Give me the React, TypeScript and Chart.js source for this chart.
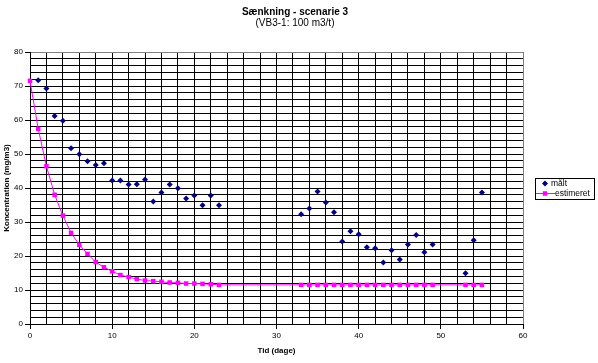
import React, { useEffect, useRef } from "react";
import { Chart, registerables } from "chart.js";

Chart.register(...registerables);

const titleText = "Sænkning - scenarie 3";
const subtitleText = "(VB3-1: 100 m3/t)";
const xTitle = "Tid (dage)";
const yTitle = "Koncentration (mg/m3)";
const measuredLabel = "målt";
const estimatedLabel = "estimeret";

const measuredDays = [1, 2, 3, 4, 5, 6, 7, 8, 9, 10, 11, 12, 13, 14, 15, 16, 17, 18, 19, 20, 21, 22, 23,
  33, 34, 35, 36, 37, 38, 39, 40, 41, 42, 43, 44, 45, 46, 47, 48, 49, 53, 54, 55];
const measuredValues = [71.7, 69.3, 61.2, 59.8, 51.7, 49.9, 47.9, 46.8, 47.3, 42.2, 42.2, 41.0, 41.1, 42.5,
  36.0, 38.7, 41.0, 39.9, 36.9, 37.8, 34.9, 37.8, 34.9,
  32.3, 34.0, 39.0, 35.7, 32.9, 24.3, 27.3, 26.4, 22.6, 22.3, 18.1, 21.7, 19.0, 23.4, 26.2, 21.1, 23.4,
  14.9, 24.6, 38.7];

const estimatedDays = [0, 1, 2, 3, 4, 5, 6, 7, 8, 9, 10, 11, 12, 13, 14, 15, 16, 17, 18, 19, 20, 21, 22, 23,
  33, 34, 35, 36, 37, 38, 39, 40, 41, 42, 43, 44, 45, 46, 47, 48, 49, 53, 54, 55];
const estimatedValues = [71.5, 57.4, 46.4, 38.0, 31.9, 26.8, 23.3, 20.6, 18.2, 16.7, 15.5, 14.4, 13.8, 13.2,
  12.8, 12.6, 12.4, 12.2, 12.1, 11.9, 11.9, 11.8, 11.7, 11.5,
  11.5, 11.5, 11.5, 11.5, 11.5, 11.5, 11.5, 11.5, 11.5, 11.5, 11.5, 11.5, 11.5, 11.5, 11.5, 11.5, 11.5,
  11.5, 11.5, 11.5];

const xMin = 0, xMax = 60, xStep = 2, xLabelStep = 10;
const yMin = 0, yMax = 80, yStep = 2, yLabelStep = 10;

const FONT = "'Liberation Sans', Arial, sans-serif";
const NAVY = "#000080";
const MAGENTA = "#FF00FF";

const decorPlugin = {
  id: "decor",
  afterDraw(chart: any) {
    const ctx = chart.ctx as CanvasRenderingContext2D;
    ctx.save();
    // titles
    ctx.fillStyle = "#000";
    ctx.textAlign = "center";
    ctx.textBaseline = "middle";
    ctx.font = `bold 10px ${FONT}`;
    ctx.fillText(titleText, 295, 12);
    ctx.font = `10px ${FONT}`;
    ctx.fillText(subtitleText, 295, 23);

    // legend
    const bx = 535.5, by = 178.5, bw = 59, bh = 21;
    ctx.fillStyle = "#fff";
    ctx.fillRect(bx, by, bw, bh);
    ctx.strokeStyle = "#000";
    ctx.lineWidth = 1;
    ctx.strokeRect(bx, by, bw, bh);

    // diamond
    const dx = 545, dy = 183.5, r = 3;
    ctx.fillStyle = NAVY;
    ctx.beginPath();
    ctx.moveTo(dx - r, dy);
    ctx.lineTo(dx, dy - r);
    ctx.lineTo(dx + r, dy);
    ctx.lineTo(dx, dy + r);
    ctx.closePath();
    ctx.fill();

    // line + square
    ctx.strokeStyle = MAGENTA;
    ctx.beginPath();
    ctx.moveTo(536, 193.5);
    ctx.lineTo(555, 193.5);
    ctx.stroke();
    ctx.fillStyle = MAGENTA;
    ctx.fillRect(542.75, 191.25, 4.5, 4.5);

    ctx.fillStyle = "#000";
    ctx.textAlign = "left";
    ctx.font = `8.5px ${FONT}`;
    ctx.fillText(measuredLabel, 551, 183.5);
    ctx.fillText(estimatedLabel, 555, 193.5);
    ctx.restore();
  },
};

export default function App() {
  const ref = useRef<HTMLCanvasElement | null>(null);

  useEffect(() => {
    if (!ref.current) return;
    const measured = measuredDays.map((d, i) => ({ x: d, y: measuredValues[i] }));
    const estimated = estimatedDays.map((d, i) => ({ x: d, y: estimatedValues[i] }));

    const chart = new Chart(ref.current, {
      type: "scatter",
      data: {
        datasets: [
          {
            label: measuredLabel,
            data: measured,
            showLine: false,
            pointStyle: "rectRot",
            pointRadius: 3,
            pointHoverRadius: 3,
            backgroundColor: NAVY,
            borderColor: NAVY,
            borderWidth: 0,
            clip: false as any,
            order: 2,
          },
          {
            label: estimatedLabel,
            data: estimated,
            showLine: true,
            tension: 0,
            borderColor: MAGENTA,
            backgroundColor: MAGENTA,
            borderWidth: 1,
            pointStyle: "rect",
            pointRadius: 3.2,
            pointHoverRadius: 3.2,
            pointBorderWidth: 0,
            pointBackgroundColor: MAGENTA,
            clip: false as any,
            order: 1,
          },
        ],
      },
      options: {
        animation: false,
        responsive: false,
        maintainAspectRatio: false,
        events: [],
        layout: { padding: { left: 0, right: 75, top: 52, bottom: 0 } },
        plugins: {
          legend: { display: false },
          title: { display: false },
          tooltip: { enabled: false },
        },
        scales: {
          x: {
            type: "linear",
            min: xMin,
            max: xMax,
            afterFit: (s: any) => { s.height = 39; },
            ticks: {
              stepSize: xStep,
              autoSkip: false,
              maxRotation: 0,
              padding: 2,
              color: "#000",
              font: { family: FONT, size: 8 },
              callback: (v: any) => (Number(v) % xLabelStep === 0 ? String(v) : ""),
            },
            grid: {
              color: (c: any) => (c.tick && c.tick.value === xMax ? "#808080" : "#000"),
              lineWidth: 1,
              drawTicks: true,
              tickLength: 5,
              tickColor: (c: any) => (c.tick && c.tick.value % xLabelStep === 0 ? "#000" : "rgba(0,0,0,0)"),
            },
            border: { display: true, color: "#000", width: 1 },
            title: {
              display: true,
              text: xTitle,
              color: "#000",
              font: { family: FONT, size: 8, weight: "bold" },
              padding: { top: 0, bottom: 7 },
            },
          },
          y: {
            type: "linear",
            min: yMin,
            max: yMax,
            afterFit: (s: any) => { s.width = 30; },
            ticks: {
              stepSize: yStep,
              autoSkip: false,
              padding: 2,
              color: "#000",
              font: { family: FONT, size: 8 },
              callback: (v: any) => (Number(v) % yLabelStep === 0 ? String(v) : ""),
            },
            grid: {
              color: (c: any) => (c.tick && c.tick.value === yMax ? "#808080" : "#000"),
              lineWidth: 1,
              drawTicks: true,
              tickLength: 5,
              tickColor: (c: any) => (c.tick && c.tick.value % yLabelStep === 0 ? "#000" : "rgba(0,0,0,0)"),
            },
            border: { display: true, color: "#000", width: 1 },
            title: {
              display: true,
              text: yTitle,
              color: "#000",
              font: { family: FONT, size: 8, weight: "bold" },
              padding: { top: 2, bottom: 0 },
            },
          },
        },
      },
      plugins: [decorPlugin],
    } as any);

    return () => chart.destroy();
  }, []);

  return (
    <div style={{ position: "absolute", left: 0, top: 0, width: 598, height: 363, background: "#fff" }}>
      <canvas ref={ref} width={598} height={363} style={{ width: 598, height: 363, display: "block" }} />
    </div>
  );
}
